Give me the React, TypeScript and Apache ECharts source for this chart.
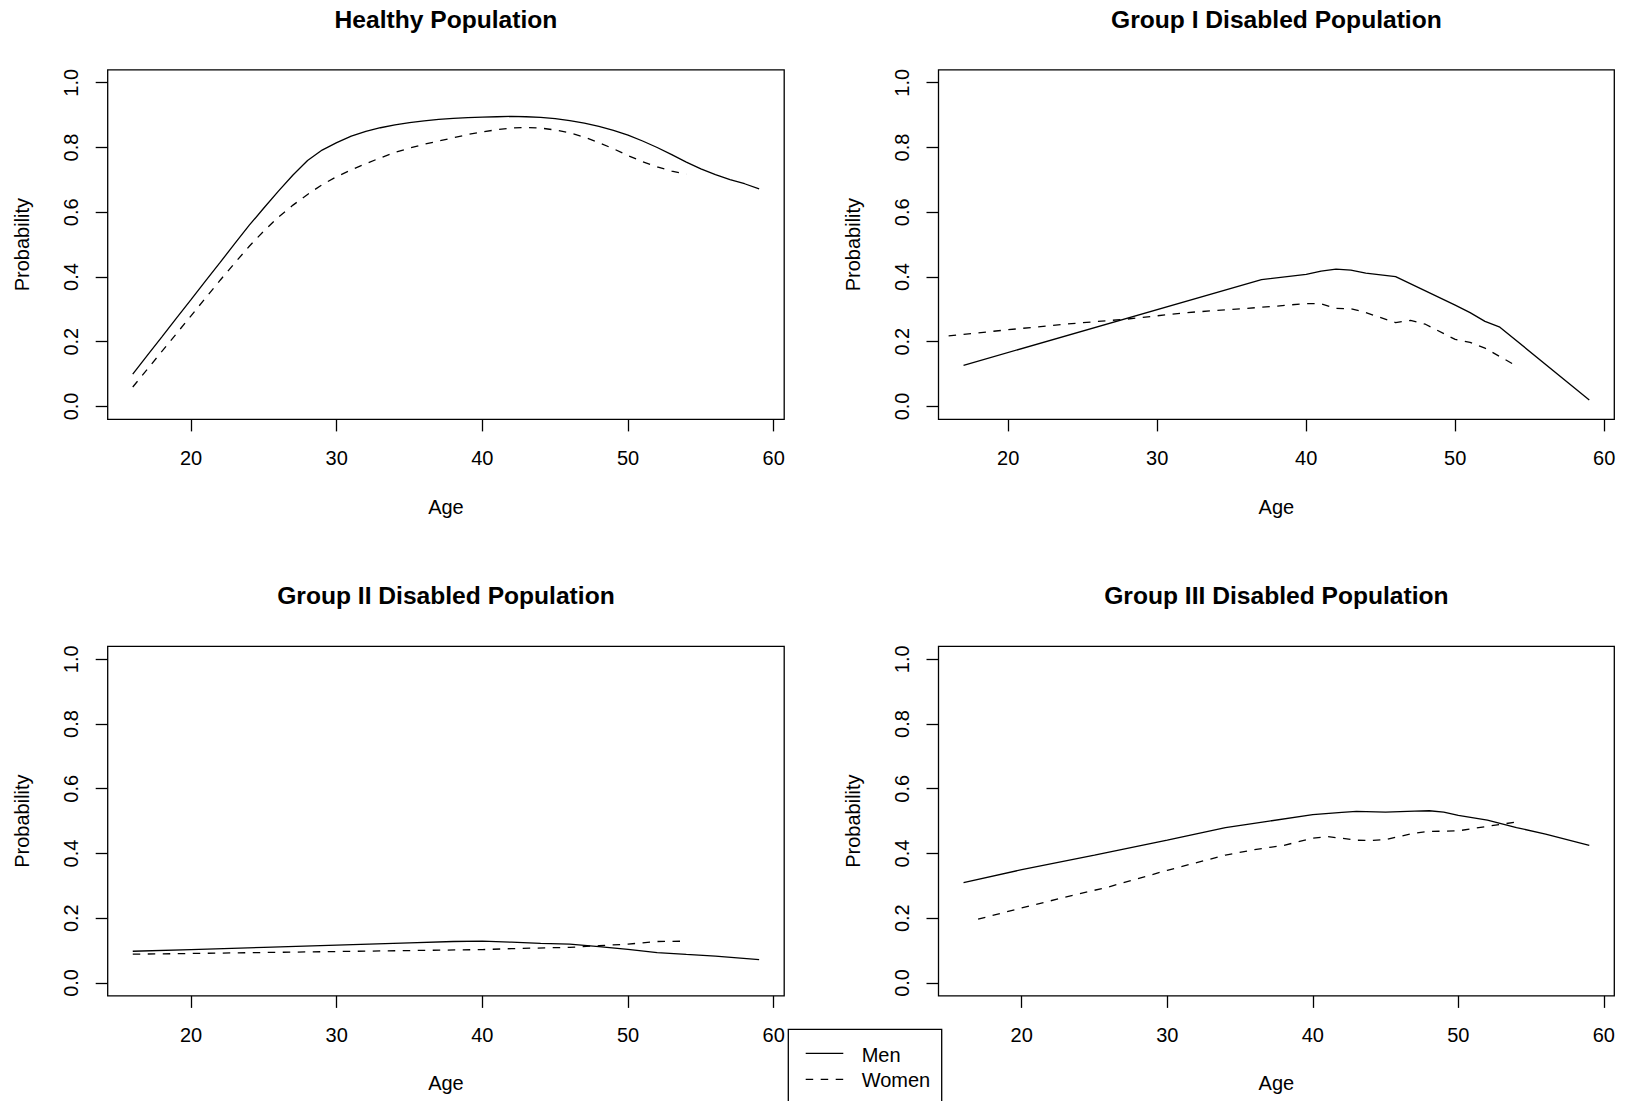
import React, { useEffect, useRef } from "react";
import * as echarts from "echarts";

// ---------- text ----------
const panelTitles = [
  "Healthy Population",
  "Group I Disabled Population",
  "Group II Disabled Population",
  "Group III Disabled Population",
];
const xAxisTitle = "Age";
const yAxisTitle = "Probability";
const legendLabels = ["Men", "Women"];

// ---------- ticks ----------
const xTicks = [20, 30, 40, 50, 60];
const yTicks = [0, 0.2, 0.4, 0.6, 0.8, 1.0];

// ---------- data: Healthy ----------
const healthyMenAge = [16, 17, 18, 19, 20, 21, 22, 23, 24, 25, 26, 27, 28, 29, 30, 31, 32, 33, 34, 35, 36, 37, 38, 39, 40, 41, 42, 43, 44, 45, 46, 47, 48, 49, 50, 51, 52, 53, 54, 55, 56, 57, 58, 59];
const healthyMen = [0.1, 0.158, 0.215, 0.273, 0.33, 0.388, 0.445, 0.503, 0.56, 0.613, 0.665, 0.715, 0.76, 0.792, 0.815, 0.835, 0.85, 0.861, 0.87, 0.877, 0.882, 0.887, 0.89, 0.892, 0.894, 0.895, 0.896, 0.895, 0.893, 0.889, 0.883, 0.875, 0.865, 0.853, 0.838, 0.82, 0.8, 0.778, 0.755, 0.734, 0.716, 0.701, 0.688, 0.672];
const healthyWomenAge = [16, 17, 18, 19, 20, 21, 22, 23, 24, 25, 26, 27, 28, 29, 30, 31, 32, 33, 34, 35, 36, 37, 38, 39, 40, 41, 42, 43, 44, 45, 46, 47, 48, 49, 50, 51, 52, 53, 54];
const healthyWomen = [0.06, 0.115, 0.17, 0.225, 0.28, 0.335, 0.39, 0.443, 0.495, 0.542, 0.585, 0.622, 0.655, 0.685, 0.71, 0.731, 0.75, 0.768, 0.785, 0.798, 0.81, 0.82, 0.83, 0.84, 0.848, 0.855, 0.86, 0.862, 0.86, 0.854, 0.845, 0.832, 0.815, 0.796, 0.775, 0.756, 0.74, 0.727, 0.718];

// ---------- data: Group I ----------
const g1MenAge = [17, 37, 40, 41, 42, 43, 44, 46, 48, 50, 51, 52, 53, 59];
const g1Men = [0.127, 0.392, 0.408, 0.418, 0.424, 0.421, 0.412, 0.401, 0.357, 0.313, 0.29, 0.263, 0.245, 0.02];
const g1WomenAge = [16, 20, 24, 28, 32, 36, 38, 40, 41, 42, 43, 44, 46, 47, 48, 50, 51, 52, 54];
const g1Women = [0.218, 0.237, 0.255, 0.27, 0.29, 0.303, 0.31, 0.318, 0.317, 0.303, 0.302, 0.29, 0.259, 0.266, 0.254, 0.207, 0.198, 0.18, 0.128];

// ---------- data: Group II ----------
const g2MenAge = [16, 20, 25, 30, 35, 38, 40, 42, 44, 46, 48, 50, 52, 54, 56, 59];
const g2Men = [0.098, 0.103, 0.11, 0.117, 0.124, 0.128, 0.129, 0.126, 0.122, 0.12, 0.112, 0.104, 0.094, 0.088, 0.083, 0.072];
const g2WomenAge = [16, 20, 25, 30, 35, 40, 42, 46, 48, 50, 52, 54];
const g2Women = [0.089, 0.091, 0.094, 0.097, 0.1, 0.103, 0.106, 0.11, 0.115, 0.12, 0.128, 0.129];

// ---------- data: Group III ----------
const g3MenAge = [16, 20, 25, 30, 34, 37, 40, 42, 43, 45, 47, 48, 49, 50, 52, 54, 56, 59];
const g3Men = [0.31, 0.35, 0.395, 0.441, 0.48, 0.5, 0.52, 0.527, 0.53, 0.528, 0.531, 0.532, 0.528, 0.518, 0.503, 0.48, 0.46, 0.425];
const g3WomenAge = [17, 20, 23, 26, 30, 34, 36, 38, 40, 41, 42, 43, 44, 45, 47, 48, 50, 52, 54];
const g3Women = [0.197, 0.232, 0.265, 0.297, 0.348, 0.395, 0.412, 0.425, 0.447, 0.452, 0.447, 0.441, 0.44, 0.443, 0.463, 0.468, 0.47, 0.484, 0.497];

const panelData = [
  { menAge: healthyMenAge, men: healthyMen, womenAge: healthyWomenAge, women: healthyWomen },
  { menAge: g1MenAge, men: g1Men, womenAge: g1WomenAge, women: g1Women },
  { menAge: g2MenAge, men: g2Men, womenAge: g2WomenAge, women: g2Women },
  { menAge: g3MenAge, men: g3Men, womenAge: g3WomenAge, women: g3Women },
];

// ---------- layout ----------
const W = 1630;
const H = 1101;
const gridBoxes = [
  { left: 107.7, top: 69.8, width: 676.5 },
  { left: 938.5, top: 69.8, width: 675.8 },
  { left: 107.7, top: 646.3, width: 676.5 },
  { left: 938.5, top: 646.3, width: 675.8 },
];
const gridH = 349.6;
const FONT = "'Liberation Sans', Arial, Helvetica, sans-serif";
const LW = 1.3;
const DASH = [7.5, 7.5];

const zip = (a: number[], b: number[]) => a.map((x, i) => [x, b[i]]);

function buildOption() {
  const grid: any[] = [];
  const xAxis: any[] = [];
  const yAxis: any[] = [];
  const series: any[] = [];
  const graphic: any[] = [];

  gridBoxes.forEach((g, i) => {
    const d = panelData[i];
    const lo = Math.min(...d.menAge);
    const hi = Math.max(...d.menAge);
    const ext = (hi - lo) * 0.04;
    grid.push({
      left: g.left,
      top: g.top,
      width: g.width,
      height: gridH,
      show: true,
      borderColor: "#000",
      borderWidth: LW,
      backgroundColor: "transparent",
      containLabel: false,
      outerBoundsMode: "none",
    });
    xAxis.push({
      type: "value",
      gridIndex: i,
      min: lo - ext,
      max: hi + ext,
      axisLine: { show: false, onZero: false },
      splitLine: { show: false },
      axisTick: { show: true, inside: false, length: 12, lineStyle: { color: "#000", width: LW }, customValues: xTicks },
      axisLabel: {
        customValues: xTicks,
        margin: 29,
        fontSize: 20,
        color: "#000",
        fontFamily: FONT,
        formatter: (v: number) => String(v),
      },
    });
    yAxis.push({
      type: "value",
      gridIndex: i,
      min: -0.04,
      max: 1.04,
      axisLine: { show: false, onZero: false },
      splitLine: { show: false },
      axisTick: { show: true, inside: false, length: 12, lineStyle: { color: "#000", width: LW }, customValues: yTicks },
      axisLabel: {
        customValues: yTicks,
        rotate: 90,
        margin: 27,
        fontSize: 20,
        color: "#000",
        fontFamily: FONT,
        formatter: (v: number) => v.toFixed(1),
      },
    });
    series.push({
      name: legendLabels[0],
      type: "line",
      xAxisIndex: i,
      yAxisIndex: i,
      data: zip(d.menAge, d.men),
      showSymbol: false,
      symbol: "none",
      smooth: false,
      lineStyle: { color: "#000", width: LW, type: "solid" },
      silent: true,
    });
    series.push({
      name: legendLabels[1],
      type: "line",
      xAxisIndex: i,
      yAxisIndex: i,
      data: zip(d.womenAge, d.women),
      showSymbol: false,
      symbol: "none",
      smooth: false,
      lineStyle: { color: "#000", width: LW, type: DASH },
      silent: true,
    });

    const cx = g.left + g.width / 2;
    const cy = g.top + gridH / 2;
    graphic.push({
      type: "text",
      x: cx,
      y: g.top - 50.5,
      style: { text: panelTitles[i], fontSize: 24.6, fontWeight: "bold", fontFamily: FONT, fill: "#000", align: "center", verticalAlign: "middle" },
    });
    graphic.push({
      type: "text",
      x: cx,
      y: g.top + gridH + 87.5,
      style: { text: xAxisTitle, fontSize: 20, fontFamily: FONT, fill: "#000", align: "center", verticalAlign: "middle" },
    });
    graphic.push({
      type: "text",
      x: g.left - 86,
      y: cy,
      rotation: Math.PI / 2,
      style: { text: yAxisTitle, fontSize: 20, fontFamily: FONT, fill: "#000", align: "center", verticalAlign: "middle" },
    });
  });

  // legend (bottom centre, partially off-page as in the original)
  const lgX = 788.3;
  const lgY = 1029.3;
  graphic.push({
    type: "rect",
    shape: { x: lgX, y: lgY, width: 153.4, height: 110 },
    style: { fill: "none", stroke: "#000", lineWidth: LW },
  });
  graphic.push({
    type: "line",
    shape: { x1: 805.7, y1: 1053.3, x2: 843.3, y2: 1053.3 },
    style: { stroke: "#000", lineWidth: LW },
  });
  graphic.push({
    type: "line",
    shape: { x1: 805.7, y1: 1079.3, x2: 843.3, y2: 1079.3 },
    style: { stroke: "#000", lineWidth: LW, lineDash: DASH },
  });
  graphic.push({
    type: "text",
    x: 861.7,
    y: 1055,
    style: { text: legendLabels[0], fontSize: 20, fontFamily: FONT, fill: "#000", align: "left", verticalAlign: "middle" },
  });
  graphic.push({
    type: "text",
    x: 861.7,
    y: 1080,
    style: { text: legendLabels[1], fontSize: 20, fontFamily: FONT, fill: "#000", align: "left", verticalAlign: "middle" },
  });

  return {
    animation: false,
    backgroundColor: "#fff",
    tooltip: { show: false },
    grid,
    xAxis,
    yAxis,
    series,
    graphic,
  };
}

export default function App() {
  const ref = useRef<HTMLDivElement>(null);
  useEffect(() => {
    document.body.style.margin = "0";
    if (!ref.current) return;
    const chart = echarts.init(ref.current, undefined, { renderer: "svg", width: W, height: H });
    chart.setOption(buildOption() as any);
    return () => chart.dispose();
  }, []);
  return (
    <div
      ref={ref}
      style={{ position: "absolute", left: 0, top: 0, width: W, height: H, background: "#fff" }}
    />
  );
}
